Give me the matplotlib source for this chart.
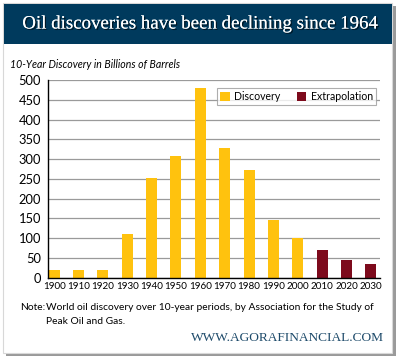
import matplotlib
matplotlib.use("Agg")
import matplotlib.pyplot as plt
import matplotlib.patheffects as pe
from matplotlib.patches import Rectangle, Patch

decades = ["1900", "1910", "1920", "1930", "1940", "1950", "1960",
           "1970", "1980", "1990", "2000", "2010", "2020", "2030"]
discovery = [20, 20, 20, 110, 252, 308, 480, 328, 272, 146, 101, None, None, None]
extrapolation = [None] * 11 + [71, 46, 35]

yellow = "#FFC20E"
darkred = "#7D0A1C"
navy = "#003A5D"

plt.rcParams["font.family"] = ["Lato", "DejaVu Sans"]

fig = plt.figure(figsize=(4.0, 3.59), dpi=100)
W, H = 400, 359

def fx(x):
    return x / W

def fy(y):
    return 1 - y / H

# card with shadow
fig.patches.append(Rectangle((fx(6), fy(356)), fx(390), 350 / H, transform=fig.transFigure,
                             facecolor="#9a9a9a", edgecolor="none", zorder=0))
fig.patches.append(Rectangle((fx(3), fy(353)), fx(389), 350 / H, transform=fig.transFigure,
                             facecolor="white", edgecolor="#d8d8d8", lw=0.8, zorder=1))
# title banner
fig.patches.append(Rectangle((fx(4), fy(44)), fx(388), 40 / H, transform=fig.transFigure,
                             facecolor=navy, edgecolor="none", zorder=2))
fig.text(fx(200), fy(24), "Oil discoveries have been declining since 1964",
         family="Liberation Serif", fontsize=13.6, color="white", ha="center", va="center",
         path_effects=[pe.withSimplePatchShadow(offset=(1, -1), shadow_rgbFace="black", alpha=0.6),
                       pe.Normal()], zorder=3)

fig.text(fx(10), fy(64), "10-Year Discovery in Billions of Barrels", fontsize=7.6,
         style="italic", ha="left", va="center", zorder=3)

ax = fig.add_axes([fx(48), fy(277.7), fx(332), 197.7 / H])
ax.set_zorder(3)
x = list(range(len(decades)))
ax.bar(x, [v if v is not None else 0 for v in discovery], width=0.45, color=yellow,
       label="Discovery", zorder=2)
ax.bar(x, [v if v is not None else 0 for v in extrapolation], width=0.45, color=darkred,
       label="Extrapolation", zorder=2)

ax.set_xlim(-0.25, 13.37)
ax.set_ylim(0, 500)
ax.set_yticks(range(0, 501, 50))
ax.set_xticks(x)
ax.set_xticklabels(decades)
ax.yaxis.grid(True, color="#9a9a9a", lw=0.9)
ax.set_axisbelow(True)
for s in ["top", "right"]:
    ax.spines[s].set_visible(False)
ax.spines["left"].set_linewidth(1.0)
ax.spines["bottom"].set_linewidth(1.0)
ax.tick_params(axis="y", length=0, labelsize=9.3, pad=5)
ax.tick_params(axis="x", length=0, labelsize=7.1, pad=3)

handles = [Patch(facecolor=yellow, edgecolor="none"), Patch(facecolor=darkred, edgecolor="none")]
leg = ax.legend(handles, ["Discovery", "Extrapolation"], ncol=2, loc="upper right",
                bbox_to_anchor=((376 - 48) / 332, (277.7 - 88) / 197.7),
                fontsize=7.6, frameon=True, fancybox=False, handlelength=0.9, handleheight=0.9,
                handletextpad=0.4, columnspacing=1.6, borderpad=0.3, borderaxespad=0)
leg.get_frame().set_edgecolor("#9a9a9a")
leg.get_frame().set_linewidth(0.8)

fig.text(fx(20), fy(308), "Note:", fontsize=7.35, ha="left", va="center", zorder=3)
fig.text(fx(46), fy(308), "World oil discovery over 10-year periods, by Association for the Study of",
         fontsize=7.35, ha="left", va="center", zorder=3)
fig.text(fx(46), fy(322), "Peak Oil and Gas.", fontsize=7.35, ha="left", va="center", zorder=3)
fig.text(fx(384), fy(338), "WWW.AGORAFINANCIAL.COM", family="Liberation Serif", fontsize=9.6,
         color="#1d4a6a", ha="right", va="center", zorder=3)

fig.savefig("out.png", dpi=100, facecolor="white")
